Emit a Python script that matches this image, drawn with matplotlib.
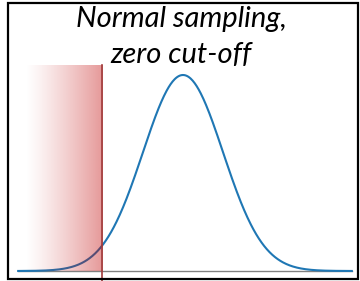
import numpy as np
import matplotlib.pyplot as plt
from matplotlib.patches import Rectangle

# Curve parameters (in units of sd)
mean = 0.0
sd = 1.0
cutoff = -2.02
x_start, x_end = -4.12, 4.22
shade_start = -3.95
title_lines = ["Normal sampling,", "zero cut-off"]

W, H = 360, 281
fig = plt.figure(figsize=(W / 100, H / 100), dpi=100)
ax = fig.add_axes([0, 0, 1, 1])
ax.set_axis_off()

# pixel mapping: x_px = 183 + 40*x ; y_px = 271 - 196*y
ax.set_xlim((0 - 183) / 40, (W - 183) / 40)
ax.set_ylim((271 - H) / 196, 271 / 196)

x = np.linspace(x_start, x_end, 500)
y = np.exp(-0.5 * ((x - mean) / sd) ** 2)
ax.plot(x, y, color="#1f77b4", lw=1.5, zorder=2)
ax.plot([x_start, x_end], [0, 0], color="#808080", lw=1, zorder=1)

# shaded region with gradient (white -> red)
grad = np.zeros((2, 256, 4))
grad[..., 0] = 192 / 255
grad[..., 3] = np.linspace(0, 0.47, 256)[None, :] ** 1.2
top = (271 - 65) / 196
ax.imshow(grad, extent=[shade_start, cutoff, 0, top], aspect="auto",
          interpolation="bilinear", zorder=3)
ax.plot([cutoff, cutoff], [top, -0.06], color="#a03a3a", lw=1.2,
        zorder=4, clip_on=False)

# frame
fig.patches.append(Rectangle((7.5 / W, (H - 278.5) / H), 350 / W, 276 / H,
                             transform=fig.transFigure, fill=False,
                             edgecolor="black", lw=1.6))

for line, yb in zip(title_lines, [27, 63]):
    fig.text(181 / W, 1 - yb / H, line, ha="center", va="baseline",
             fontsize=21, family="Lato", style="italic", color="black")

fig.savefig("out.png", dpi=100)
